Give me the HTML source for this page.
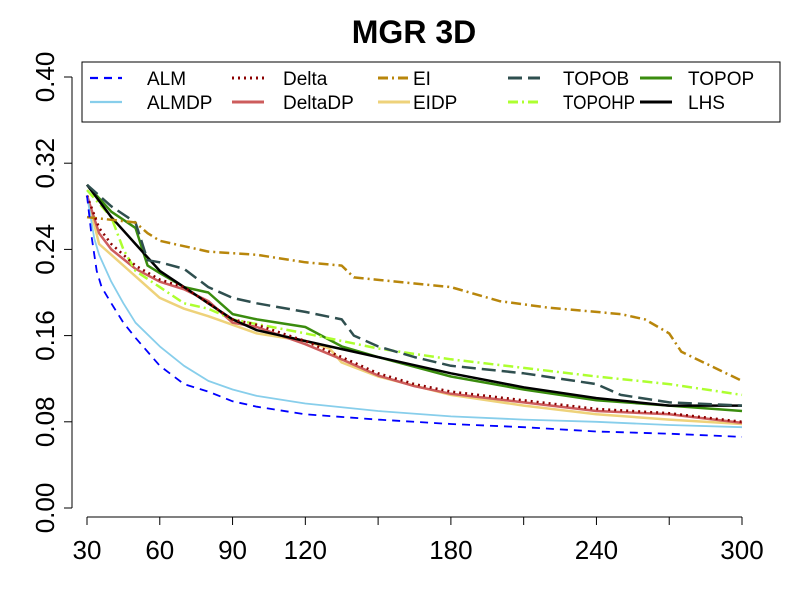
<!DOCTYPE html>
<html><head><meta charset="utf-8"><style>body{margin:0;background:#fff}svg{display:block;font-family:"Liberation Sans",sans-serif}</style></head>
<body>
<svg id="chart" width="800" height="600" viewBox="0 0 800 600">
<rect width="800" height="600" fill="#fff"/>
<text x="414" y="43" text-anchor="middle" font-size="32" font-weight="bold">MGR 3D</text>
<g id="axes"></g>
<g id="series"></g>
<g id="legend"></g>
</svg>
<script>
const xTicks=[30,60,90,120,150,180,210,240,270,300];
const xTickLabels=["30","60","90","120","","180","","240","","300"];
const yTicks=[0,0.08,0.16,0.24,0.32,0.40];
const yTickLabels=["0.00","0.08","0.16","0.24","0.32","0.40"];
const seriesNames=["ALM","ALMDP","Delta","DeltaDP","EI","EIDP","TOPOB","TOPOHP","TOPOP","LHS"];
const xALM=[30,32,34,36,40,45,50,60,70,80,90,100,120,150,180,210,240,270,300];
const yALM=[0.29,0.25,0.22,0.205,0.19,0.172,0.158,0.132,0.115,0.108,0.099,0.094,0.087,0.082,0.078,0.075,0.071,0.069,0.066];
const xALMDP=[30,33,35,40,45,50,60,70,80,90,100,120,150,180,210,240,270,300];
const yALMDP=[0.29,0.25,0.235,0.21,0.19,0.172,0.15,0.132,0.118,0.11,0.104,0.097,0.09,0.085,0.082,0.08,0.077,0.075];
const xDelta=[30,35,40,50,60,70,80,90,100,120,135,150,165,180,210,240,270,300];
const yDelta=[0.29,0.26,0.245,0.225,0.212,0.205,0.19,0.175,0.17,0.155,0.14,0.125,0.115,0.108,0.1,0.092,0.088,0.08];
const xDeltaDP=[30,35,40,50,60,70,80,90,100,120,135,150,165,180,210,240,270,300];
const yDeltaDP=[0.29,0.255,0.24,0.222,0.21,0.203,0.192,0.172,0.168,0.152,0.138,0.123,0.113,0.106,0.098,0.09,0.087,0.079];
const xEI=[30,50,55,60,80,100,120,135,140,180,200,220,250,260,270,275,300];
const yEI=[0.27,0.265,0.255,0.248,0.238,0.235,0.228,0.225,0.214,0.205,0.192,0.186,0.18,0.175,0.162,0.145,0.118];
const xEIDP=[30,35,40,50,60,70,80,90,100,120,130,135,150,180,210,240,270,300];
const yEIDP=[0.29,0.245,0.235,0.215,0.195,0.185,0.178,0.17,0.162,0.155,0.148,0.135,0.122,0.105,0.095,0.087,0.082,0.078];
const xTOPOB=[30,40,50,55,60,70,80,90,100,120,135,140,150,165,180,210,240,250,270,300];
const yTOPOB=[0.30,0.28,0.265,0.23,0.228,0.222,0.205,0.195,0.19,0.182,0.175,0.16,0.15,0.14,0.132,0.125,0.115,0.105,0.098,0.095];
const xTOPOHP=[30,40,45,50,60,70,80,90,120,150,180,210,240,270,300];
const yTOPOHP=[0.295,0.27,0.24,0.22,0.205,0.19,0.185,0.175,0.162,0.148,0.138,0.13,0.122,0.115,0.105];
const xTOPOP=[30,40,50,55,60,70,80,90,100,120,135,150,180,210,240,270,300];
const yTOPOP=[0.30,0.275,0.26,0.225,0.218,0.205,0.2,0.18,0.175,0.168,0.15,0.14,0.122,0.11,0.1,0.095,0.09];
const xLHS=[30,40,50,60,70,80,90,100,120,150,180,210,240,270,300];
const yLHS=[0.30,0.27,0.245,0.22,0.205,0.19,0.175,0.165,0.155,0.14,0.125,0.112,0.102,0.095,0.095];

const NS="http://www.w3.org/2000/svg";
const X=v=>87+(v-30)*(742-87)/270;
const Y=v=>508-v*(508-77)/0.4;
function mk(tag,parent,attrs){const e=document.createElementNS(NS,tag);for(const k in attrs)e.setAttribute(k,attrs[k]);parent.appendChild(e);return e;}
const axes=document.getElementById('axes');
let l=mk('line',axes,{x1:72,y1:Y(0),x2:72,y2:Y(0.4),stroke:'#000'});


yTicks.forEach((t,i)=>{
  const tk=mk('line',axes,{x1:64,x2:72,y1:Y(t),y2:Y(t),stroke:'#000'});
  
  
  const tx=mk('text',axes,{x:0,y:0,'font-size':26,'text-anchor':'middle',transform:`translate(54,${Y(t)}) rotate(-90)`});
  tx.textContent=yTickLabels[i];
  
  
});
l=mk('line',axes,{x1:X(30),y1:517,x2:X(300),y2:517,stroke:'#000'});


xTicks.forEach((t,i)=>{
  const tk=mk('line',axes,{x1:X(t),x2:X(t),y1:517,y2:525,stroke:'#000'});
  
  
  const tx=mk('text',axes,{x:X(t),y:559,'font-size':26,'text-anchor':'middle'});
  tx.textContent=xTickLabels[i];
  
  
});
const styles={
 ALM:{c:'#0000ff',d:'8,6',w:1.8},ALMDP:{c:'#87ceeb',d:'',w:1.8},
 Delta:{c:'#8b0000',d:'2,4',w:2.5},DeltaDP:{c:'#cd5c5c',d:'',w:2.5},
 EI:{c:'#b8860b',d:'10,4,2,4',w:2.5},EIDP:{c:'#eed27a',d:'',w:2.5},
 TOPOB:{c:'#2f4f4f',d:'14,6',w:2.5},TOPOHP:{c:'#adff2f',d:'10,4,2,4',w:2.5},
 TOPOP:{c:'#3a8c0e',d:'',w:2.5},LHS:{c:'#000',d:'',w:2.5}};
const data={ALM:[xALM,yALM],ALMDP:[xALMDP,yALMDP],Delta:[xDelta,yDelta],DeltaDP:[xDeltaDP,yDeltaDP],EI:[xEI,yEI],EIDP:[xEIDP,yEIDP],TOPOB:[xTOPOB,yTOPOB],TOPOHP:[xTOPOHP,yTOPOHP],TOPOP:[xTOPOP,yTOPOP],LHS:[xLHS,yLHS]};
const sg=document.getElementById('series');
const order=["EIDP","DeltaDP","ALMDP","TOPOP","TOPOHP","LHS","TOPOB","EI","Delta","ALM"];
order.forEach(n=>{
  const [xs,ys]=data[n],s=styles[n];
  const pts=xs.map((x,i)=>X(x).toFixed(1)+','+Y(ys[i]).toFixed(1)).join(' ');
  const p=mk('polyline',sg,{points:pts,fill:'none',stroke:s.c,'stroke-width':s.w,'stroke-dasharray':s.d,'stroke-linejoin':'round'});
  
  
});
const lg=document.getElementById('legend');
const box=mk('rect',lg,{x:82,y:62,width:698,height:60,fill:'#fff',stroke:'#000'});


const lineX=[90,232,378,508,640];
const textX=[147,283,413,563,688];
seriesNames.forEach((n,i)=>{
  const cc=Math.floor(i/2), rr=i%2;
  const y=78+rr*24, s=styles[n];
  const g=mk('g',lg,{});
  
  
  mk('line',g,{x1:lineX[cc],x2:lineX[cc]+32,y1:y,y2:y,stroke:s.c,'stroke-width':s.w+0.5,'stroke-dasharray':s.d});
  const t=mk('text',g,{x:textX[cc],y:y+7,'font-size':19});
  if(n==='TOPOHP'){t.setAttribute('textLength','72');t.setAttribute('lengthAdjust','spacingAndGlyphs');}
  t.textContent=n;
});
</script>
</body></html>
